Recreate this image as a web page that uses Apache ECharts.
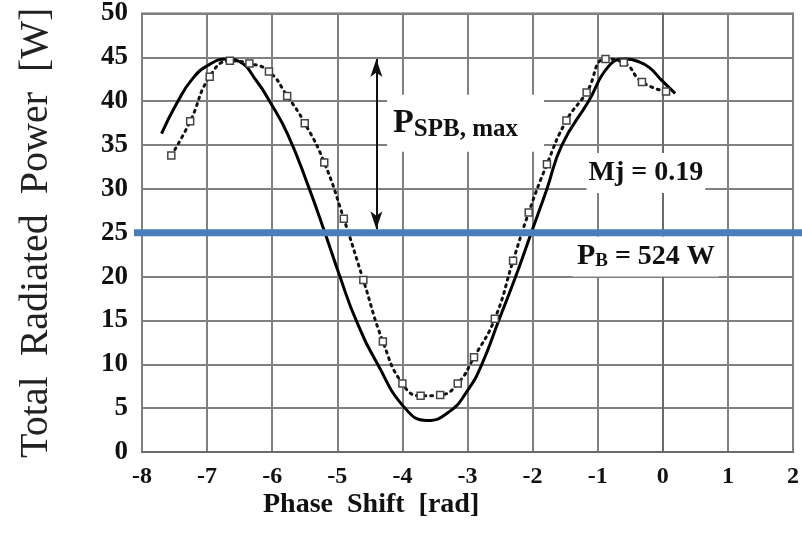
<!DOCTYPE html>
<html>
<head>
<meta charset="utf-8" />
<title>Total Radiated Power</title>
<script src="https://cdn.jsdelivr.net/npm/echarts@6/dist/echarts.min.js"></script>
<style>
  html, body { margin: 0; padding: 0; background: #fff; }
  #chart { width: 802px; height: 551px; }
</style>
</head>
<body>
<div id="chart"></div>
<script>
// theory curve (solid)
var solidX = [-7.70, -7.47, -7.22, -6.96, -6.70, -6.50, -6.24, -6.04, -5.76, -5.43, -5.19, -4.96, -4.71, -4.38, -3.96, -3.62, -3.28, -3.00, -2.78, -2.52, -2.26, -2.02, -1.78, -1.55, -1.14, -0.83, -0.57, -0.37, -0.20, -0.02, 0.19];
var solidY = [36.3, 39.7, 42.6, 44.2, 44.8, 44.5, 42.3, 40.0, 36.2, 30.0, 25.0, 20.0, 15.0, 10.0, 5.0, 3.6, 4.6, 7.0, 10.0, 15.0, 20.0, 25.0, 30.0, 35.0, 40.0, 44.0, 44.8, 44.5, 43.8, 42.4, 40.9];

// measured points (dotted + squares)
var dotX = [-7.55, -7.26, -6.96, -6.65, -6.35, -6.05, -5.77, -5.50, -5.20, -4.90, -4.60, -4.30, -4.00, -3.72, -3.42, -3.15, -2.90, -2.58, -2.30, -2.06, -1.78, -1.48, -1.17, -0.88, -0.60, -0.32, 0.05];
var dotY = [33.8, 37.7, 42.8, 44.6, 44.3, 43.4, 40.6, 37.5, 33.0, 26.6, 19.6, 12.6, 7.8, 6.4, 6.5, 7.8, 10.8, 15.2, 21.8, 27.3, 32.8, 37.8, 41.0, 44.8, 44.4, 42.2, 41.1];

var baseLevel = 25;          // P_B level (blue line)
var arrowX = -4.4;           // double arrow position
var arrowTop = 44.8, arrowBottom = 25.4;

function pairs(xs, ys) {
    var out = [];
    for (var i = 0; i < xs.length; i++) out.push([xs[i], ys[i]]);
    return out;
}

var serif = 'Liberation Serif';
var myChart = echarts.init(document.getElementById('chart'));

var option = {
    animation: false,
    title: {
        text: 'Phase  Shift  [rad]',
        left: 258,
        top: 486,
        textStyle: { fontFamily: serif, fontSize: 28, fontWeight: 'bold', color: '#111' }
    },
    grid: {
        left: 142, right: 7, top: 12, bottom: 99,
        show: true, borderColor: '#6a6a6a', borderWidth: 2
    },
    xAxis: {
        type: 'value',
        min: -8, max: 2, interval: 1,
        axisLine: { lineStyle: { color: '#6a6a6a', width: 2 } },
        axisTick: { show: false },
        axisLabel: { margin: 13, fontFamily: serif, fontSize: 24, fontWeight: 'bold', color: '#111' },
        splitLine: { lineStyle: { color: '#808080', width: 2 } }
    },
    yAxis: {
        type: 'value',
        min: 0, max: 50, interval: 5,
        name: 'Total  Radiated  Power  [W]',
        nameLocation: 'middle',
        nameRotate: 90,
        nameGap: 86,
        nameTextStyle: { fontFamily: serif, fontSize: 40, color: '#222' },
        axisLine: { show: true, lineStyle: { color: '#6a6a6a', width: 2 } },
        axisTick: { show: false },
        axisLabel: { margin: 14, fontFamily: serif, fontSize: 27, fontWeight: 'bold', color: '#111' },
        splitLine: { lineStyle: { color: '#808080', width: 2 } }
    },
    series: [
        {
            name: 'theory',
            type: 'line',
            data: pairs(solidX, solidY),
            smooth: true,
            showSymbol: false,
            lineStyle: { color: '#000', width: 3 },
            markLine: {
                silent: true,
                symbol: ['arrow', 'arrow'],
                symbolSize: [9, 18],
                label: { show: false },
                lineStyle: { color: '#111', width: 2, type: 'solid' },
                data: [[{ coord: [arrowX, arrowTop] }, { coord: [arrowX, arrowBottom] }]]
            }
        },
        {
            name: 'measured',
            type: 'line',
            data: pairs(dotX, dotY),
            smooth: true,
            symbol: 'rect',
            symbolSize: 7,
            itemStyle: { color: '#fff', borderColor: '#444', borderWidth: 1.5 },
            lineStyle: { color: '#111', width: 3, type: [2, 5], cap: 'round' },
            markPoint: {
                silent: true,
                symbol: 'rect',
                symbolSize: 1,
                itemStyle: { color: 'rgba(0,0,0,0)' },
                data: [
                    {
                        coord: [-3.03, 37.5],
                        label: {
                            show: true, position: 'inside',
                            formatter: '{p|P}{s|SPB, max}',
                            backgroundColor: '#fff',
                            padding: [10, 26, 10, 6],
                            rich: {
                                p: { fontFamily: serif, fontSize: 34, fontWeight: 'bold', color: '#111', lineHeight: 36 },
                                s: { fontFamily: serif, fontSize: 25, fontWeight: 'bold', color: '#111', padding: [12, 0, 0, 0] }
                            }
                        }
                    },
                    {
                        coord: [-0.26, 31.8],
                        label: {
                            show: true, position: 'inside',
                            formatter: 'Mj = 0.19',
                            backgroundColor: '#fff',
                            padding: [6, 2],
                            fontFamily: serif, fontSize: 28, fontWeight: 'bold', color: '#111'
                        }
                    },
                    {
                        coord: [-0.26, 22.3],
                        label: {
                            show: true, position: 'inside',
                            formatter: '{p|P}{s|B}{t| = 524 W}',
                            backgroundColor: '#fff',
                            padding: [4, 4],
                            rich: {
                                p: { fontFamily: serif, fontSize: 30, fontWeight: 'bold', color: '#111', lineHeight: 32 },
                                s: { fontFamily: serif, fontSize: 19, fontWeight: 'bold', color: '#111', padding: [10, 0, 0, 0] },
                                t: { fontFamily: serif, fontSize: 28, fontWeight: 'bold', color: '#111', lineHeight: 32 }
                            }
                        }
                    }
                ]
            }
        }
    ]
};
myChart.setOption(option);

// blue P_B line: runs a little past the plot on both sides
var yPix = myChart.convertToPixel({ gridIndex: 0 }, [0, baseLevel])[1];
var xLeft = myChart.convertToPixel({ gridIndex: 0 }, [-8, baseLevel])[0];
myChart.setOption({
    graphic: [{
        type: 'line',
        z: 100,
        silent: true,
        shape: { x1: xLeft - 8, y1: yPix, x2: 802, y2: yPix },
        style: { stroke: '#4a7dbb', lineWidth: 7 }
    }]
});
</script>
</body>
</html>
